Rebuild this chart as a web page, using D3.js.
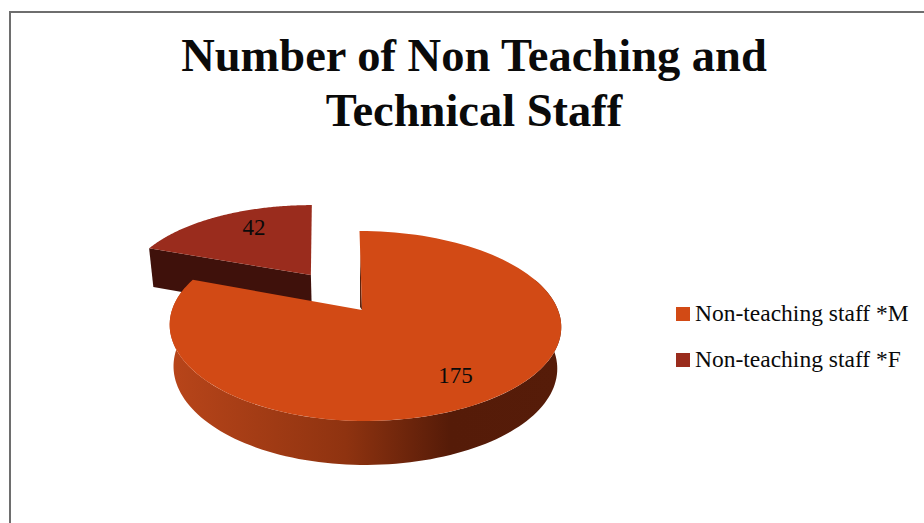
<!DOCTYPE html>
<html>
<head>
  <title>Number of Non Teaching and Technical Staff</title>
  <script src="https://d3js.org/d3.v7.min.js"></script>
  <style>
    html, body { margin: 0; padding: 0; background: #fff; overflow: hidden; }
    text { font-family: "Liberation Serif", serif; fill: #0a0a0a; }
  </style>
</head>
<body>
  <svg id="chart"></svg>

  <script>
    // Values
    var categories = ["Non-teaching staff *M", "Non-teaching staff *F"];
    var staffValues = [175, 42];
    var colors = ["#d24a15", "#9a2c1d"];
    var titleLines = ["Number of Non Teaching and", "Technical Staff"];

    var width = 924;
    var height = 523;

    var svg = d3.select("#chart")
                .attr("width", width)
                .attr("height", height)
                .style("display", "block");

    // Frame: only top and left edges show inside the crop
    svg.append("path")
       .attr("d", "M924,12H10V523")
       .attr("fill", "none")
       .attr("stroke", "#6e6e6e")
       .attr("stroke-width", 2);

    // Title
    svg.append("g").selectAll("text")
       .data(titleLines)
       .enter().append("text")
       .attr("x", 474)
       .attr("y", (d, i) => 71 + i * 55)
       .attr("text-anchor", "middle")
       .attr("font-size", 46.5)
       .attr("font-weight", "bold")
       .text(d => d);

    // Pie angles come from d3.pie, the tilted disc is drawn through a small perspective projection
    var pie = d3.pie().sort(null).startAngle(0).endAngle(2 * Math.PI);
    var slices = pie(staffValues);

    var apexX = 362, apexY = 310;
    var persp = 0.168, yScale = 92.3;
    // slice placement on the disc: shift u, shift v, x scale left, x scale right, skew
    var placement = [
      { u: 0, v: 0, left: 190, right: 196, skew: 2.5 },
      { u: -0.28, v: 0.405, left: 195, right: 195, skew: 6 }
    ];
    var labelAt = [0.76, 0.72];
    var labelNudge = [[-3, 1], [11, -4]];
    var wallColor = "#3f110b";

    function project(a, r, pl, drop) {
      var u = r * Math.sin(a) + pl.u;
      var v = r * Math.cos(a) + pl.v;
      var w = 1 + persp * v;
      var sx = u < 0 ? pl.left : pl.right;
      var x = sx * u / w - pl.skew * (v - pl.v);
      var y = -yScale * v / w;
      if (drop) {
        x *= 0.98;
        y += 41 - 3 * v;
      }
      return [apexX + x, apexY + y];
    }

    var line = d3.line();

    function rim(a0, a1, pl, drop) {
      return d3.range(0, 121).map(function (i) {
        return project(a0 + (a1 - a0) * i / 120, 1, pl, drop);
      });
    }

    function topFace(d, pl) {
      return line([project(0, 0, pl)].concat(rim(d.startAngle, d.endAngle, pl))) + "Z";
    }

    // Side gradient on the big slice
    var grad = svg.append("defs").append("linearGradient")
                  .attr("id", "side")
                  .attr("gradientUnits", "userSpaceOnUse")
                  .attr("x1", 170).attr("x2", 560).attr("y1", 0).attr("y2", 0);
    [[0, "#b8451a"], [0.45, "#8f3310"], [0.72, "#551b08"], [1, "#561c09"]].forEach(function (s) {
      grad.append("stop").attr("offset", s[0]).attr("stop-color", s[1]);
    });

    // Small slice first, it sits behind the big one
    var female = slices[1];
    var fPl = placement[1];
    var fApex = project(0, 0, fPl);
    var fApexLow = project(0, 0, fPl, true);
    var fLeft = project(female.startAngle, 1, fPl);
    var fLeftLow = project(female.startAngle, 1, fPl, true);
    svg.append("path")
       .attr("d", line([fLeft, fApex, fApexLow, fLeftLow]) + "Z")
       .attr("fill", wallColor);
    svg.append("path")
       .attr("d", topFace(female, fPl))
       .attr("fill", colors[1]);

    // Big slice: side wall, then top
    var male = slices[0];
    var mPl = placement[0];
    var frontTop = rim(70 * Math.PI / 180, 285 * Math.PI / 180, mPl);
    var frontLow = rim(70 * Math.PI / 180, 285 * Math.PI / 180, mPl, true).reverse();
    svg.append("path")
       .attr("d", line(frontTop.concat(frontLow)) + "Z")
       .attr("fill", "url(#side)");

    // Sliver of the cut wall seen in the notch
    var cutApex = project(0, 0, mPl);
    var cutUpper = project(0, 0.78, mPl);
    svg.append("path")
       .attr("d", line([cutUpper, cutApex, [cutApex[0] - 2, cutApex[1] - 3]]) + "Z")
       .attr("fill", "#5a2410");

    svg.append("path")
       .attr("d", topFace(male, mPl))
       .attr("fill", colors[0]);

    // Data labels
    slices.forEach(function (d, i) {
      var mid = (d.startAngle + d.endAngle) / 2;
      var p = project(mid, labelAt[i], placement[i]);
      svg.append("text")
         .attr("x", p[0] + labelNudge[i][0])
         .attr("y", p[1] + 8 + labelNudge[i][1])
         .attr("text-anchor", "middle")
         .attr("font-size", 23)
         .text(staffValues[i]);
    });

    // Legend
    var legendY = d3.scalePoint().domain(categories).range([314, 360]);
    var legend = svg.append("g").selectAll("g")
                    .data(categories)
                    .enter().append("g");
    legend.append("rect")
          .attr("x", 676)
          .attr("y", d => legendY(d) - 7)
          .attr("width", 14)
          .attr("height", 14)
          .attr("fill", (d, i) => colors[i]);
    legend.append("text")
          .attr("x", 695)
          .attr("y", d => legendY(d) + 7)
          .attr("font-size", 23.5)
          .text(d => d);
  </script>
</body>
</html>
